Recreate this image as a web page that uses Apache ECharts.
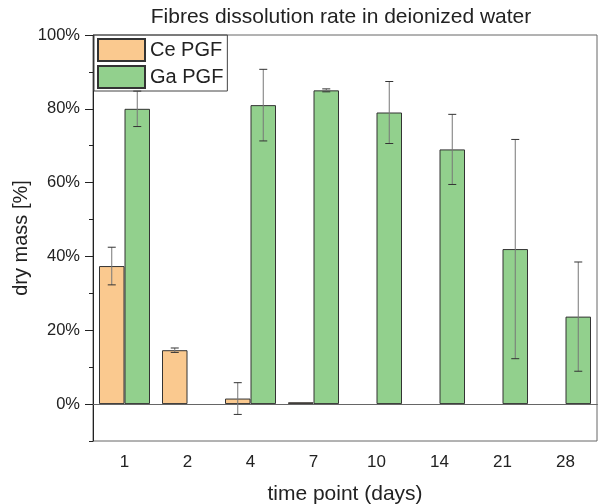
<!DOCTYPE html>
<html><head><meta charset="utf-8">
<script src="https://cdn.jsdelivr.net/npm/echarts@6/dist/echarts.min.js"></script>
<style>html,body{margin:0;padding:0;background:#fff}#c{width:598px;height:504px}</style>
</head><body><div id="c"></div>
<script>
const categories = ['1','2','4','7','10','14','21','28'];
const ceValues = [37.4, 14.6, 1.5, 0.5, null, null, null, null];
const ceErrors = [5.1, 0.6, 4.3, 0, null, null, null, null];
const gaValues = [80, null, 81, 85, 79, 69, 42, 23.7];
const gaErrors = [4.8, null, 9.7, 0.4, 8.4, 9.5, 29.7, 14.8];
const yMajorTicks = [0, 20, 40, 60, 80, 100];
const yMinorTicks = [-10, 10, 30, 50, 70, 90];

const FONT = 'Liberation Sans';
const BAR_W = 25.5;

function errData(vals, errs) {
  return vals.map((v, i) => (v == null || errs[i] == null) ? null : [i, v, errs[i]]).filter(d => d);
}
function errRenderer(offsetSign) {
  return function (params, api) {
    const i = api.value(0), v = api.value(1), e = api.value(2);
    if (!e) return null;
    const c = api.coord([i, v]);
    const x = c[0] + offsetSign * BAR_W / 2;
    const top = api.coord([i, v + e])[1];
    const bot = api.coord([i, v - e])[1];
    const cap = 4;
    return {
      type: 'group',
      children: [
        {type: 'line', shape: {x1: x, y1: top, x2: x, y2: bot}, style: {stroke: '#777', lineWidth: 1}},
        {type: 'line', shape: {x1: x - cap, y1: top, x2: x + cap, y2: top}, style: {stroke: '#333', lineWidth: 1}},
        {type: 'line', shape: {x1: x - cap, y1: bot, x2: x + cap, y2: bot}, style: {stroke: '#333', lineWidth: 1}}
      ]
    };
  };
}

const chart = echarts.init(document.getElementById('c'), null, {renderer: 'canvas'});
chart.setOption({
  animation: false,
  textStyle: {fontFamily: FONT},
  title: {
    text: 'Fibres dissolution rate in deionized water',
    left: 341, top: 7, textAlign: 'center', padding: 0,
    textStyle: {fontFamily: FONT, fontSize: 21, fontWeight: 'normal', color: '#222'}
  },
  legend: {
    orient: 'vertical', left: 94, top: 35,
    icon: 'rect',
    itemWidth: 47, itemHeight: 22, itemGap: 3,
    padding: [3, 4, 2, 3],
    borderColor: '#444', borderWidth: 1,
    textStyle: {fontFamily: FONT, fontSize: 20, color: '#222'},
    data: [{name: 'Ce PGF'}, {name: 'Ga PGF'}]
  },
  grid: {left: 93, right: 1, top: 35, bottom: 63, show: true, borderColor: '#666', borderWidth: 1, outerBoundsMode: 'none', containLabel: false},
  xAxis: {
    type: 'category', data: categories,
    axisLine: {lineStyle: {color: '#222', width: 1}},
    axisTick: {alignWithLabel: true, length: 7, lineStyle: {color: '#222'}},
    axisLabel: {fontFamily: FONT, fontSize: 17, color: '#222', margin: 13},
    name: 'time point (days)', nameLocation: 'middle', nameGap: 43, nameMoveOverlap: false,
    nameTextStyle: {fontFamily: FONT, fontSize: 21, color: '#222'}
  },
  yAxis: [{
    type: 'value', min: -10, max: 100,
    axisLine: {show: true, lineStyle: {color: '#222', width: 1}},
    axisTick: {show: true, length: 8, customValues: yMajorTicks, lineStyle: {color: '#222'}},
    axisLabel: {fontFamily: FONT, fontSize: 16.5, color: '#222', margin: 13, customValues: yMajorTicks, formatter: '{value}%'},
    splitLine: {show: false},
    name: 'dry mass [%]', nameLocation: 'middle', nameGap: 62, nameMoveOverlap: false,
    nameTextStyle: {fontFamily: FONT, fontSize: 20, color: '#222'}
  }, {
    type: 'value', min: -10, max: 100, position: 'left',
    axisLine: {show: false},
    axisTick: {show: true, length: 4, customValues: yMinorTicks, lineStyle: {color: '#222'}},
    axisLabel: {show: false},
    splitLine: {show: false}
  }],
  series: [{
    name: 'Ce PGF', type: 'bar', data: ceValues, barWidth: BAR_W, barGap: '0%',
    itemStyle: {color: '#FAC98F', borderColor: '#333', borderWidth: 1},
    markLine: {
      silent: true, symbol: 'none', label: {show: false},
      lineStyle: {color: '#666', width: 1, type: 'solid'},
      data: [{yAxis: 0}]
    }
  }, {
    name: 'Ga PGF', type: 'bar', data: gaValues, barWidth: BAR_W, barGap: '0%',
    itemStyle: {color: '#92D08D', borderColor: '#333', borderWidth: 1}
  }, {
    type: 'custom', renderItem: errRenderer(-1), data: errData(ceValues, ceErrors), z: 10, silent: true
  }, {
    type: 'custom', renderItem: errRenderer(1), data: errData(gaValues, gaErrors), z: 10, silent: true
  }]
});
</script></body></html>
